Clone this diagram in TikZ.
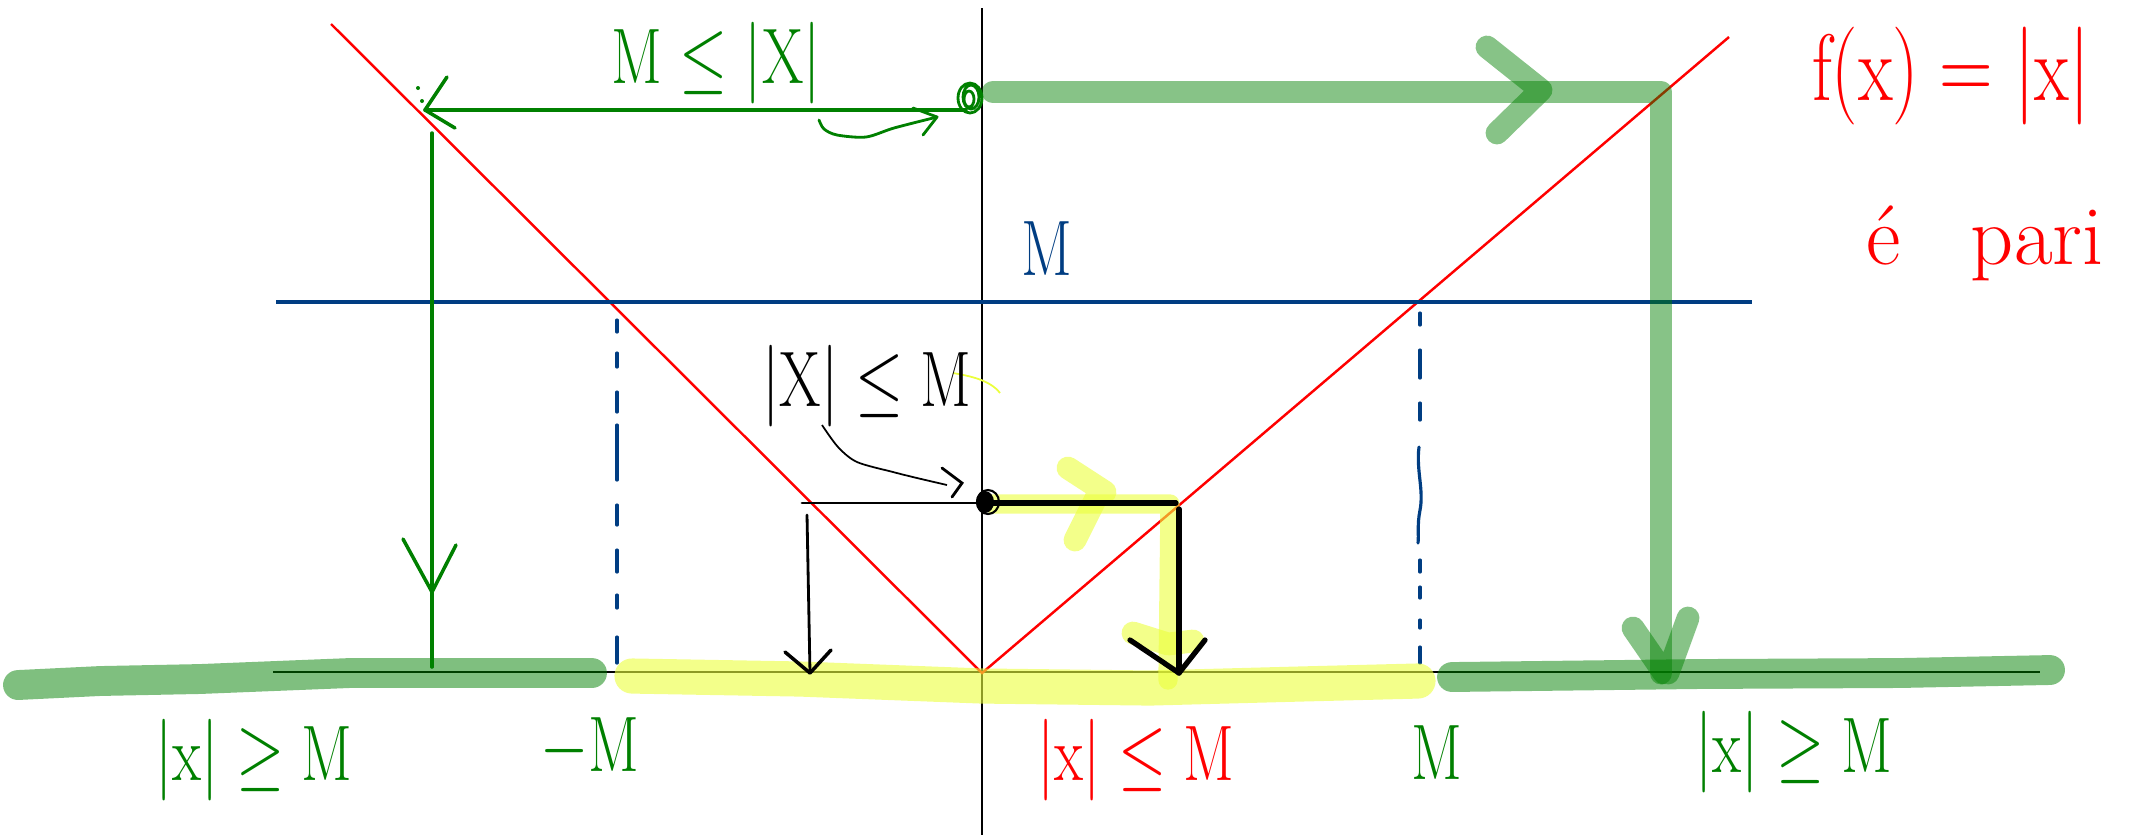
\documentclass[tikz,border=0pt]{standalone}
\usepackage{fontspec}
\definecolor{bl}{RGB}{0,61,130}
\definecolor{gr}{RGB}{0,128,0}
\definecolor{hl}{RGB}{235,255,60}
\newcommand{\handw}[1]{\scalebox{0.85}[1.12]{#1}}
\begin{document}
\begin{tikzpicture}[x=0.1mm,y=-0.1mm,
  lab/.style={inner sep=0pt, font=\fontsize{20}{24}\selectfont},
  biglab/.style={inner sep=0pt, font=\fontsize{24}{28}\selectfont},
  axisl/.style={black, line width=0.8pt},
  redl/.style={red, line width=0.7pt},
  bluel/.style={bl, line width=1.1pt},
  bdash/.style={bl, line width=0.9pt, line cap=round},
  gthin/.style={gr, line width=1pt, line cap=round, line join=round},
  gthick/.style={gr, opacity=0.47, line width=6.5pt, line cap=round, line join=round},
  gband/.style={gr, opacity=0.5, line width=8.5pt, line cap=round, line join=round},
  yband/.style={hl, opacity=0.6, line width=10pt, line cap=round, line join=round},
  yhl/.style={hl, opacity=0.6, line width=5.5pt, line cap=round, line join=round},
  bthin/.style={black, line width=0.8pt, line cap=round, line join=round},
  bthick/.style={black, line width=1.5pt, line cap=round, line join=round}]
\useasboundingbox (0,0) rectangle (2138,838);
% key points
\coordinate (O) at (982,673);
\coordinate (ytop) at (982,8);
\coordinate (ybot) at (982,835);
\coordinate (xl) at (273,672);
\coordinate (xr) at (2040,672);
\coordinate (rl) at (331,24);
\coordinate (rr) at (1729,37);
\coordinate (bll) at (276,302);
\coordinate (blr) at (1752,302);
% axes
\draw[axisl] (ytop) -- (ybot);
\draw[axisl] (xl) -- (xr);
% red V
\draw[redl] (rl) -- (O) -- (rr);
% blue level line
\draw[bluel] (bll) -- (blr);
% blue dashed verticals
\foreach \a/\b in {320/332,353/367,392/412,425/480,505/525,550/572,595/608,637/663}
  \draw[bdash] (617,\a) -- (617,\b);
\foreach \a/\b in {313/325,350/378,403/420,560/572,587/598,620/628,647/663}
  \draw[bdash] (1420,\a) -- (1420,\b);
\draw[bdash] (1419,447) .. controls (1416,470) and (1424,490) .. (1420,510) .. controls (1417,525) and (1419,535) .. (1418,543);
% bottom bands
\draw[gband] (18,685) -- (100,681) -- (200,679) -- (350,673) -- (592,673);
\draw[yband] (632,676) -- (800,679) -- (982,686) -- (1150,688) -- (1300,684) -- (1418,681);
\draw[gband] (1452,677) -- (1700,674) -- (1900,673) -- (2050,670);
% green thin: from the curve back to the axis
\coordinate (ga) at (966,110);
\coordinate (gb) at (425,110);
\draw[gthin] (ga) -- (gb);
\draw[gthin] (447,77) -- (gb) -- (455,128);
\fill[gr] (418,88) circle (2) (422,101) circle (2);
\coordinate (gc) at (432,133);
\coordinate (gd) at (432,667);
\draw[gthin] (gc) -- (gd);
\draw[gthin] (403,539) -- (432,592) -- (456,545);
% green scribble point on the axis
\coordinate (gp) at (970,98);
\draw[gthin, line width=0.8pt] (gp) ellipse (12 and 15) (971,97) ellipse (8 and 12) (969,99) ellipse (5 and 8);
% curly green arrow
\draw[gthin, line width=0.8pt] plot[smooth] coordinates {(819,120) (824,129) (837,135) (866,137) (894,128) (937,117)};
\draw[gthin, line width=0.8pt] (913,108) -- (937,117) -- (923,135);
% thick green path
\coordinate (g1) at (993,92);
\coordinate (g2) at (1661,92);
\coordinate (g3) at (1661,673);
\draw[gthick] (g1) -- (g2) -- (g3);
\draw[gthick] (1487,47) -- (1541,90) -- (1497,133);
\draw[gthick] (1633,628) -- (1664,673) (1688,618) -- (1668,673);
% yellow highlight of the black path
\draw[yhl] (993,504) -- (1170,504) -- (1168,680);
\draw[yhl, line width=6.5pt] (1068,468) -- (1105,492) (1075,540) -- (1100,490);
\draw[yhl, line width=6.5pt] (1133,633) -- (1168,644) -- (1193,641);
\draw[hl, line width=0.5pt] (953,373) .. controls (970,376) and (990,380) .. (1000,393);
% black path
\coordinate (k0) at (802,503);
\coordinate (k1) at (982,503);
\coordinate (k2) at (1176,503);
\coordinate (k3) at (1179,673);
\draw[bthin] (k0) -- (k1);
\draw[bthick] (k1) -- (k2);
\draw[bthick] (1179,509) -- (k3);
\draw[bthick] (1130,640) -- (k3) -- (1205,640);
\coordinate (k4) at (807,515);
\coordinate (k5) at (810,673);
\draw[bthin] (k4) -- (k5);
\draw[bthin, line width=1pt] (785,652) -- (k5) -- (831,650);
\fill[black] (985,502) ellipse (9 and 11);
\draw[black, line width=0.6pt] (988,502) ellipse (11 and 12);
% curly black arrow
\draw[black, line width=0.5pt] plot[smooth] coordinates {(822,425) (838,447) (857,462) (893,472) (917,478) (947,485)};
\draw[black, line width=0.8pt, line cap=round] (942,468) -- (962,483) -- (952,497);
% labels
\node[lab, text=gr] (t1) at (716,63) {\handw{$\mathrm{M} \leq |\mathrm{X}|$}};
\node[lab, text=bl] (t2) at (1047,249) {\handw{$\mathrm{M}$}};
\node[lab, text=black] (t3) at (867,386) {\handw{$|\mathrm{X}| \leq \mathrm{M}$}};
\node[biglab, text=red, anchor=base] (t4) at (1951,100) {\handw{$\mathrm{f}(\mathrm{x}) = |\mathrm{x}|$}};
\node[biglab, text=red, anchor=base west] (t5) at (1866,264) {é\hspace{7mm}pari};
\node[lab, text=gr] (t6) at (254,760) {\handw{$|\mathrm{x}| \geq \mathrm{M}$}};
\node[lab, text=gr] (t7) at (590,748) {\handw{$-\mathrm{M}$}};
\node[lab, text=red] (t8) at (1136,760) {\handw{$|\mathrm{x}| \leq \mathrm{M}$}};
\node[lab, text=gr] (t9) at (1437,753) {\handw{$\mathrm{M}$}};
\node[lab, text=gr] (t10) at (1794,752) {\handw{$|\mathrm{x}| \geq \mathrm{M}$}};
\end{tikzpicture}
\end{document}
